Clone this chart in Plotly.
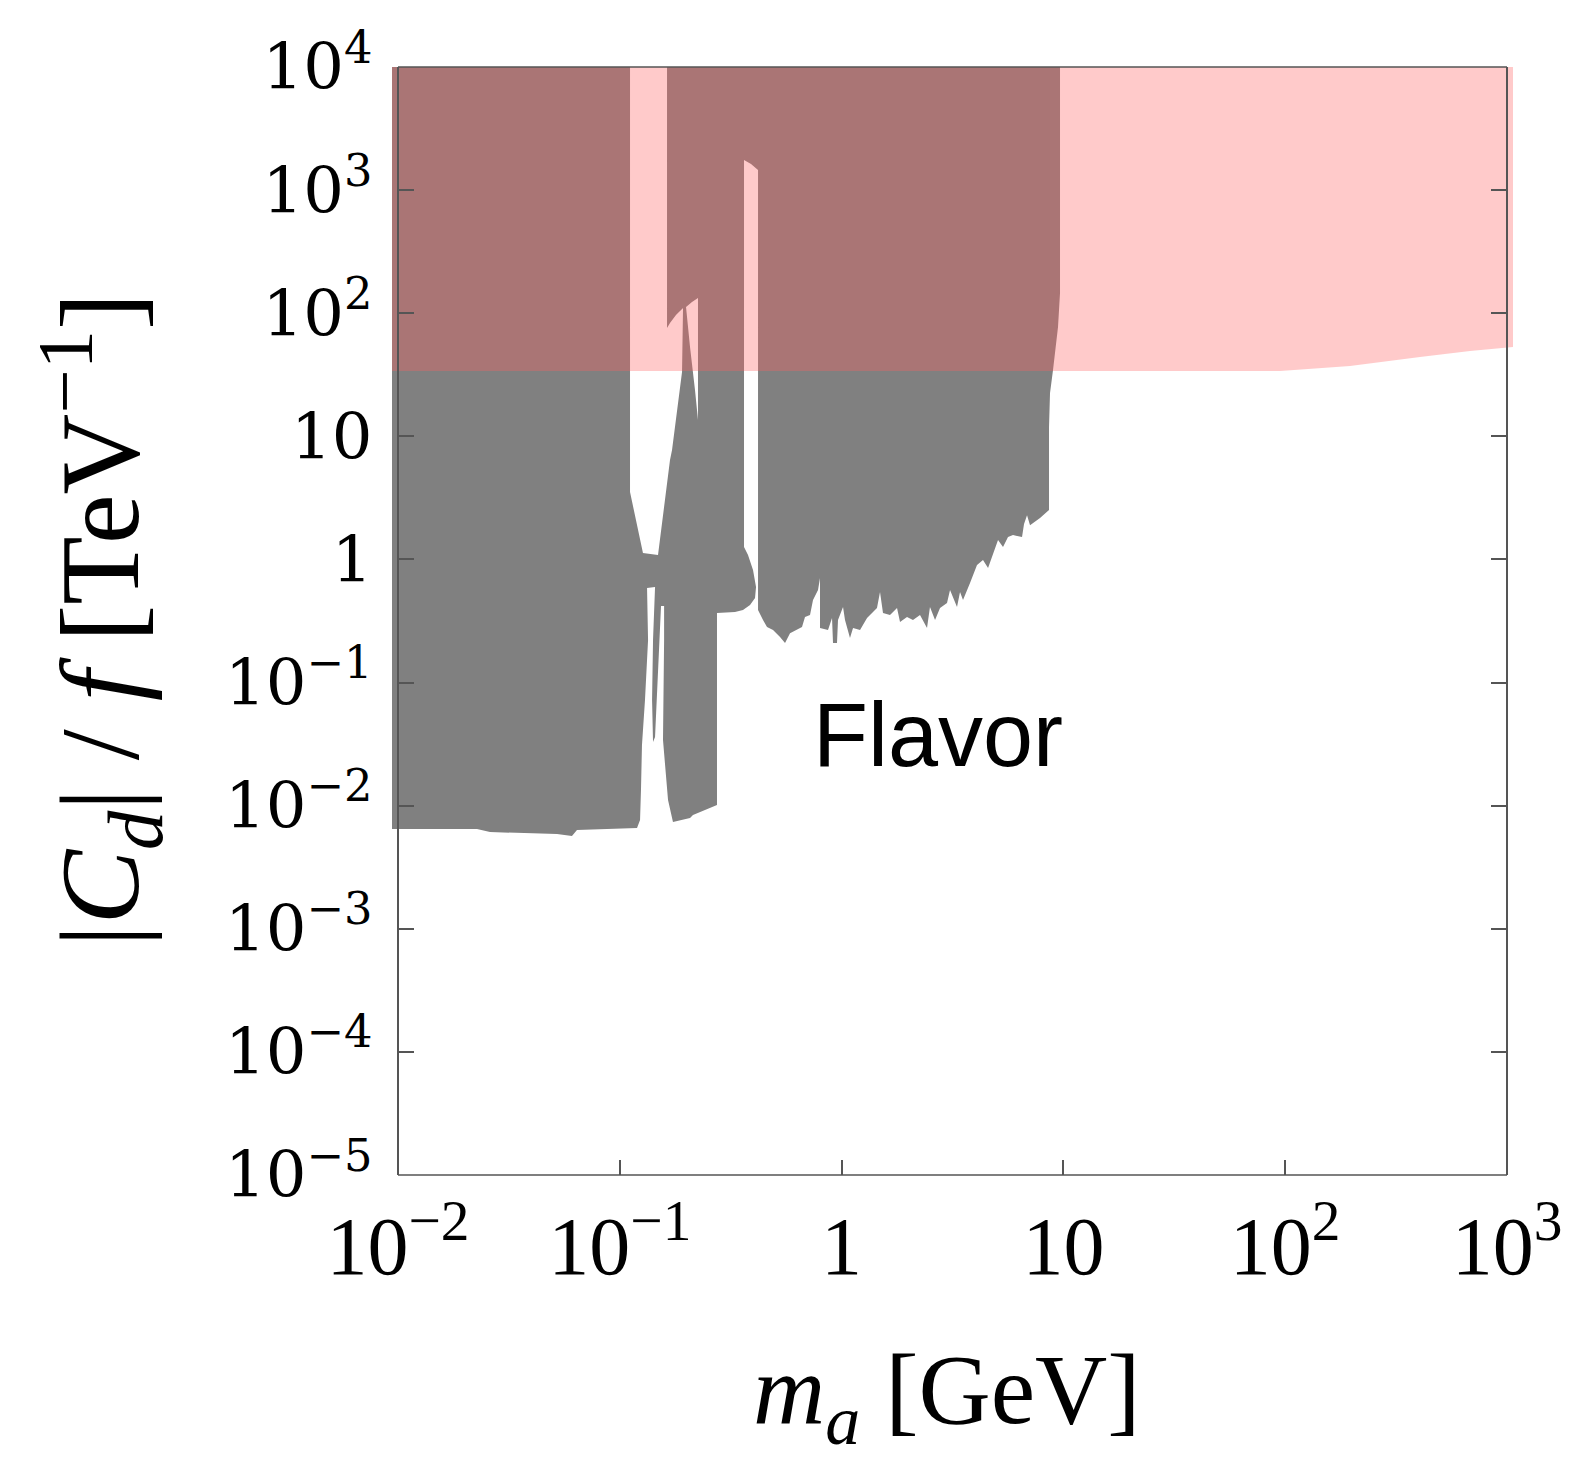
import plotly.graph_objects as go

# ---------------- data ----------------
# Flavor-excluded region (grey): outline of the excluded area, m_a [GeV] vs |C_d|/f [TeV^-1]
flavor_mass = [
    0.00939, 0.1112, 0.1112, 0.1272, 0.1487, 0.1684, 0.1720, 0.1811, 0.1908, 0.1928,
    0.1792, 0.1684, 0.1633, 0.1633, 9.654, 9.654, 9.456, 8.978, 8.703, 8.613,
    8.613, 7.844, 7.072, 6.855, 6.645, 6.509, 5.926, 5.626, 5.342, 5.073,
    4.817, 4.574, 4.340, 4.078, 3.793, 3.527, 3.419, 3.314, 3.082, 2.987,
    2.778, 2.638, 2.503, 2.427, 2.257, 2.098, 1.972, 1.834, 1.778, 1.653,
    1.537, 1.490, 1.444, 1.371, 1.302, 1.211, 1.126, 1.091, 1.036, 1.015,
    0.9634, 0.9534, 0.9147, 0.9054, 0.8684, 0.7992, 0.7992, 0.7828, 0.7432, 0.7204,
    0.6839, 0.6630, 0.5854, 0.5558, 0.5277, 0.4907, 0.4610, 0.4423, 0.4200, 0.4200,
    0.3905, 0.3631, 0.3631, 0.3785, 0.3987, 0.4113, 0.4071, 0.3865, 0.3593, 0.3307,
    0.2743, 0.2743, 0.2138, 0.2073, 0.1737, 0.1650, 0.1566, 0.1584, 0.1584, 0.1534,
    0.1502, 0.1472, 0.1442, 0.1412, 0.1398, 0.1412, 0.1442, 0.1327, 0.1341, 0.1299,
    0.1272, 0.1259, 0.1246, 0.1234, 0.1196, 0.06412, 0.06088, 0.05211, 0.02599, 0.02271,
    0.00939,
]
flavor_coupling = [
    10000, 10000, 3.53, 1.127, 1.086, 6.42, 7.74, 15.5, 33.3, 110.2,
    96.7, 83.2, 75.8, 10000, 10000, 145.9, 77.3, 34.6, 22.5, 11.9,
    2.52, 2.17, 1.90, 2.29, 1.94, 1.52, 1.58, 1.52, 1.26, 1.44,
    1.127, 0.851, 0.989, 0.901, 0.643, 0.468, 0.543, 0.411, 0.564, 0.442,
    0.403, 0.322, 0.411, 0.277, 0.353, 0.322, 0.340, 0.310, 0.403, 0.353,
    0.367, 0.543, 0.403, 0.367, 0.334, 0.267, 0.277, 0.230, 0.322, 0.411,
    0.322, 0.2094, 0.2094, 0.334, 0.267, 0.277, 0.706, 0.564, 0.468, 0.353,
    0.340, 0.282, 0.252, 0.2094, 0.234, 0.267, 0.282, 0.322, 0.388, 1456,
    1629, 1756, 1.26, 1.086, 0.820, 0.597, 0.486, 0.426, 0.388, 0.374,
    0.367, 0.01011, 0.00839, 0.00793, 0.00736, 0.01110, 0.0341, 0.2215, 0.418, 0.418,
    0.1837, 0.0721, 0.0361, 0.0329, 0.0721, 0.2215, 0.597, 0.586, 0.2215, 0.0721,
    0.0411, 0.0311, 0.01339, 0.00764, 0.00658, 0.00633, 0.00566, 0.00588, 0.00610, 0.00645,
    0.00645,
]

# small allowed window inside the flavor region
gap_mass = [0.1989, 0.2116, 0.2252, 0.2252, 0.2183, 0.2073]
gap_coupling = [112.3, 123.3, 132.9, 13.6, 23.8, 53.1]

# pink excluded region
pink_mass = [0.00939, 1064, 1064, 681, 405, 196, 94.8, 0.00939]
pink_coupling = [10000, 10000, 53.1, 49.3, 44.1, 37.2, 33.9, 33.9]

x_tick_vals = [0.01, 0.1, 1, 10, 100, 1000]
x_tick_text = ["10<sup>−2</sup>", "10<sup>−1</sup>", "1", "10", "10<sup>2</sup>", "10<sup>3</sup>"]
y_tick_vals = [1e-5, 1e-4, 1e-3, 1e-2, 1e-1, 1, 10, 100, 1000, 10000]
y_tick_text = ["10<sup>−5</sup>", "10<sup>−4</sup>", "10<sup>−3</sup>", "10<sup>−2</sup>",
               "10<sup>−1</sup>", "1", "10", "10<sup>2</sup>", "10<sup>3</sup>", "10<sup>4</sup>"]

# ---------------- figure ----------------
GRAY = "#808080"
FRAME = "#555555"

fig = go.Figure()
fig.add_trace(go.Scatter(x=flavor_mass, y=flavor_coupling, fill="toself", mode="lines",
                         line=dict(width=0, color=GRAY), fillcolor=GRAY,
                         hoverinfo="skip", showlegend=False))
fig.add_trace(go.Scatter(x=gap_mass, y=gap_coupling, fill="toself", mode="lines",
                         line=dict(width=0, color="white"), fillcolor="white",
                         hoverinfo="skip", showlegend=False))
fig.add_trace(go.Scatter(x=pink_mass, y=pink_coupling, fill="toself", mode="lines",
                         line=dict(width=0, color="rgba(255,95,95,0)"),
                         fillcolor="rgba(255,95,95,0.33)",
                         hoverinfo="skip", showlegend=False))
# invisible trace to activate the right-hand mirrored axis
fig.add_trace(go.Scatter(x=[0.02], y=[1e-4], yaxis="y2", mode="markers",
                         marker=dict(opacity=0), hoverinfo="skip", showlegend=False))

W, H = 1573, 1469
ml, mr, mt, mb = 392, 60, 67, 294
pw = W - ml - mr
ph = H - mt - mb
left_pos = 6 / pw
right_pos = (pw - 6) / pw

fig.update_layout(
    width=W, height=H,
    margin=dict(l=ml, r=mr, t=mt, b=mb, pad=0),
    paper_bgcolor="white", plot_bgcolor="white",
    xaxis=dict(type="log", range=[-2.027, 3.027], showgrid=False, zeroline=False,
               showline=False, ticks="inside", ticklen=15, tickwidth=1.5, tickcolor=FRAME,
               tickvals=x_tick_vals, ticktext=x_tick_text, ticklabelstandoff=16,
               tickfont=dict(family="Liberation Serif", size=82, color="black")),
    yaxis=dict(type="log", range=[-5, 4], showgrid=False, zeroline=False,
               showline=True, linecolor=FRAME, linewidth=1.5,
               anchor="free", position=left_pos,
               ticks="inside", ticklen=15, tickwidth=1.5, tickcolor=FRAME,
               tickvals=y_tick_vals, ticktext=y_tick_text, ticklabelstandoff=12,
               tickfont=dict(family="DejaVu Serif", size=64, color="black")),
    yaxis2=dict(type="log", range=[-5, 4], overlaying="y", side="right",
                anchor="free", position=right_pos, showgrid=False, zeroline=False,
                showline=True, linecolor=FRAME, linewidth=1.5,
                ticks="inside", ticklen=15, tickwidth=1.5, tickcolor=FRAME,
                tickvals=y_tick_vals, showticklabels=False),
    shapes=[
        dict(type="line", xref="paper", yref="paper", x0=left_pos, x1=right_pos, y0=0, y1=0,
             line=dict(color=FRAME, width=1.5), layer="above"),
        dict(type="line", xref="paper", yref="paper", x0=left_pos, x1=right_pos, y0=1, y1=1,
             line=dict(color=FRAME, width=1.5), layer="above"),
    ],
    annotations=[
        dict(text="Flavor", xref="paper", yref="paper", x=(938 - ml) / pw, y=(1175 - 735) / ph,
             showarrow=False, xanchor="center", yanchor="middle",
             font=dict(family="Liberation Sans", size=90, color="black")),
        dict(text="<i>m</i><sub><i>a</i></sub> [GeV]", xref="paper", yref="paper",
             x=(947 - ml) / pw, y=(1175 - 1396) / ph, showarrow=False,
             xanchor="center", yanchor="middle",
             font=dict(family="Liberation Serif", size=100, color="black")),
        dict(text="|<i>C</i><sub><i>d</i></sub>| / <i>f</i> [TeV<sup>−1</sup>]", xref="paper", yref="paper",
             x=(100 - ml) / pw, y=(1175 - 620) / ph, showarrow=False, textangle=-90,
             xanchor="center", yanchor="middle",
             font=dict(family="Liberation Serif", size=112, color="black")),
    ],
)

fig.write_html("out.html")
